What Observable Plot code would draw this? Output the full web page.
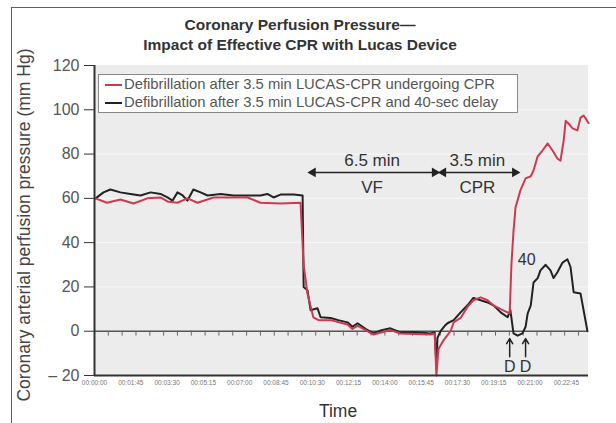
<!DOCTYPE html>
<html><head><meta charset="utf-8">
<script src="https://cdn.jsdelivr.net/npm/d3@7"></script>
<script src="https://cdn.jsdelivr.net/npm/@observablehq/plot@0.6"></script>
<style>
body{margin:0;width:616px;height:423px;overflow:hidden;background:#fff;font-family:"Liberation Sans",Arial,sans-serif;position:relative}
#frame{position:absolute;left:11px;top:7px;width:700px;height:500px;border:1.5px solid #e3261f;box-sizing:border-box}
#chart{position:absolute;left:0;top:0}
#title{position:absolute;left:0;width:600px;top:15px;text-align:center;font-weight:bold;font-size:15.5px;line-height:20px;color:#333}
#ylab{position:absolute;left:24px;top:225px;transform:translate(-50%,-50%) rotate(-90deg);white-space:nowrap;font-size:17.5px;color:#444}
#xlab{position:absolute;left:338px;top:411px;transform:translate(-50%,-50%);font-size:17.5px;color:#333}
#legend{position:absolute;left:98px;top:74px;width:420px;height:39px;background:#fff;border:1px solid #888;box-sizing:border-box;font-size:14.8px;color:#555}
.item{position:absolute;left:6px;height:17px;line-height:17px;white-space:nowrap}
.item span{display:inline-block;width:17px;height:0;border-top:2px solid;vertical-align:middle;margin-right:2px}
</style></head>
<body>
<div id="frame"></div>
<div id="chart"></div>
<div id="title">Coronary Perfusion Pressure—<br>Impact of Effective CPR with Lucas Device</div>
<div id="ylab">Coronary arterial perfusion pressure (mm Hg)</div>
<div id="xlab">Time</div>
<div id="legend"></div>
<script>
// ---- data ----
const seriesNames = [
  "Defibrillation after 3.5 min LUCAS-CPR undergoing CPR",
  "Defibrillation after 3.5 min LUCAS-CPR and 40-sec delay"
];
const seriesColors = ["#cc3a52", "#222222"];

// time in seconds, pressure in mm Hg
const redT = [3,36,75,113,153,191,211,240,269,298,344,394,443,480,538,596,605,616,633,648,683,732,746,761,807,856,885,972,984,989,995,1010,1030,1039,1059,1079,1096,1117,1137,1154,1175,1195,1201,1206,1212,1218,1232,1247,1262,1270,1282,1296,1311,1325,1339,1348,1357,1363,1371,1383,1397,1406,1415,1421,1429];
const redV = [60,58,59.5,57.7,60,60.4,58.6,58,60,58,60.4,60.4,60.4,58,57.7,58,30,17,6.3,5,5,3,1,2.5,-1.5,0.5,-1,-1.5,-1,-20,-8,-4,0,4,6,11,14,15.3,14,11.7,10,8.5,8,30,45,56,63.6,69,70,72.6,79,81.6,84.8,81.6,78,77,86,95,93.8,91.6,90.7,96.5,97.4,96,94];

const blackT = [3,26,46,75,104,133,162,191,211,226,240,255,269,286,307,327,365,402,443,480,500,518,538,576,602,605,616,625,645,654,683,705,732,746,761,785,807,830,856,885,930,972,984,989,992,1001,1015,1021,1039,1059,1079,1096,1117,1137,1154,1175,1195,1203,1212,1224,1238,1247,1253,1262,1270,1282,1290,1305,1319,1328,1339,1354,1368,1377,1386,1406,1426];
const blackV = [60,62.7,64,62.7,62,61.3,62.7,62,60.4,59,62.7,61.3,59,64,62.7,61.3,62,61.3,61.3,61.3,62,60.4,61.7,61.7,61.3,20,18.5,9.5,10.4,6.3,6,5,4,2,3.6,1,-1,0.5,1.3,-0.5,-0.5,-1,-0.5,-15,-3,0,2.7,3.6,5,8.5,11.7,15,14,13,11.7,8.5,6.3,9.5,-1,-2,-1,2,8,11.7,22,24,27.5,30,27.5,24,26.6,31,32.5,29,17.6,17,0];

const yTicks = [-20,0,20,40,60,80,100,120];
const xTicks = [0,105,210,315,420,525,630,735,840,945,1050,1155,1260,1365];
const zeroTicks = d3.range(0, 1430, 40);
const gridValues = [20,40,60,80,100];

const spans = [
  {t1: 624, t2: 992, top: "6.5 min", bottom: "VF"},
  {t1: 1001, t2: 1224, top: "3.5 min", bottom: "CPR"}
];
const defibTimes = [1201, 1247];
const peakLabel = {t: 1250, v: 32, text: "40"};

// ---- build ----
const red = redT.map((t, i) => ({t, v: redV[i]}));
const black = blackT.map((t, i) => ({t, v: blackV[i]}));
const heads = spans.flatMap(d => [{t: d.t1 + 8, rot: -90}, {t: d.t2 - 8, rot: 90}]);
const pad = n => String(n).padStart(2, "0");
const fmt = s => `${pad(Math.floor(s / 3600))}:${pad(Math.floor(s / 60) % 60)}:${pad(s % 60)}`;

const chart = Plot.plot({
  width: 616, height: 423,
  marginLeft: 94, marginRight: 28, marginTop: 65, marginBottom: 48,
  x: {domain: [0, 1429]},
  y: {domain: [-20, 120]},
  style: {fontFamily: "Liberation Sans, Arial, sans-serif", background: "transparent", color: "#555"},
  marks: [
    Plot.rect([0], {x1: 0, x2: 1429, y1: -20, y2: 120, fill: "#ececec"}),
    Plot.ruleY(gridValues, {stroke: "#f8f8f8", strokeWidth: 1}),
    Plot.ruleY([0], {stroke: "#555", strokeWidth: 1.5}),
    Plot.ruleX(zeroTicks, {y1: 0, y2: -2.2, stroke: "#666", strokeWidth: 1}),
    Plot.line(black, {x: "t", y: "v", stroke: seriesColors[1], strokeWidth: 2}),
    Plot.line(red, {x: "t", y: "v", stroke: seriesColors[0], strokeWidth: 2}),
    Plot.link(spans, {x1: "t1", x2: "t2", y1: 71.7, y2: 71.7, stroke: "#222", strokeWidth: 1.5}),
    Plot.dot(heads, {x: "t", y: 71.7, symbol: "triangle", rotate: "rot", r: 3.6, fill: "#222", stroke: null}),
    Plot.text(spans, {x: d => (d.t1 + d.t2) / 2 - 5, y: 77.3, text: "top", fontSize: 17, fill: "#333"}),
    Plot.text(spans, {x: d => (d.t1 + d.t2) / 2 - 5, y: 64.8, text: "bottom", fontSize: 17, fill: "#333"}),
    Plot.text([peakLabel], {x: "t", y: "v", text: "text", fontSize: 16, fill: "#333"}),
    Plot.arrow(defibTimes, {x1: d => d, x2: d => d, y1: -11.5, y2: -3.3, stroke: "#222", strokeWidth: 1.5, headLength: 6}),
    Plot.text(defibTimes, {x: d => d, y: -16.3, text: () => "D", fontSize: 16, fill: "#333"}),
    Plot.ruleX([0], {stroke: "#333", strokeWidth: 2}),
    Plot.ruleY([-20], {stroke: "#333", strokeWidth: 2}),
    Plot.axisY({ticks: yTicks, tickSize: 10, tickPadding: 5, fontSize: 16, stroke: "#333", fill: "#555",
      tickFormat: d => d < 0 ? "\u2013 " + (-d) : String(d), label: null}),
    Plot.axisX({ticks: xTicks, tickSize: 0, tickPadding: 5, fontSize: 6.5, fill: "#777", tickFormat: fmt, label: null})
  ]
});
document.getElementById("chart").appendChild(chart);

const legend = document.getElementById("legend");
seriesNames.forEach((name, i) => {
  const div = document.createElement("div");
  div.className = "item";
  div.style.top = (i === 0 ? 1 : 19) + "px";
  const sw = document.createElement("span");
  sw.style.borderColor = seriesColors[i];
  div.appendChild(sw);
  div.appendChild(document.createTextNode(name));
  legend.appendChild(div);
});
</script>
</body></html>
